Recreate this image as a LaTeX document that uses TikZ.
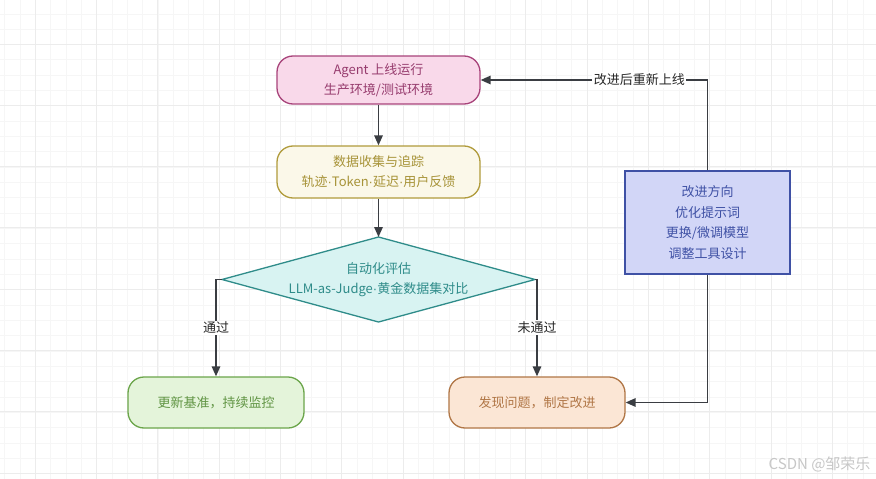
\documentclass[tikz,border=0pt]{standalone}
\usepackage{fontspec}
\setmainfont{Noto Sans CJK SC}
\newfontfamily\dotfont{Liberation Sans}
\newcommand{\sepdot}{{\dotfont\char"00B7}}
\usetikzlibrary{arrows.meta,positioning,calc}
\definecolor{gridMinor}{RGB}{246,246,246}
\definecolor{gridMajor}{RGB}{236,236,236}
\definecolor{lineGray}{RGB}{58,61,66}
\definecolor{deployFill}{RGB}{249,217,234}
\definecolor{deployLine}{RGB}{168,67,122}
\definecolor{collectFill}{RGB}{251,248,233}
\definecolor{collectLine}{RGB}{176,155,59}
\definecolor{evalFill}{RGB}{216,243,242}
\definecolor{evalLine}{RGB}{47,140,138}
\definecolor{passFill}{RGB}{228,244,218}
\definecolor{passLine}{RGB}{107,165,74}
\definecolor{failFill}{RGB}{251,230,213}
\definecolor{failLine}{RGB}{176,118,70}
\definecolor{planFill}{RGB}{210,214,247}
\definecolor{planLine}{RGB}{63,81,165}

\begin{document}
\begin{tikzpicture}[x=1pt, y=-1pt,
    stage/.style={draw, line width=1.3pt, rounded corners=16pt, align=center,
      font=\fontsize{13}{20}\selectfont},
    flow/.style={draw=lineGray, line width=1.5pt, -{Triangle[length=10pt,width=8.5pt]}},
    edgelabel/.style={fill=white, inner sep=1.5pt, text=black!85, font=\fontsize{13}{16}\selectfont}
  ]
    \useasboundingbox (0,0) rectangle (876,479);
    \fill[white] (0,0) rectangle (876,479);

    % background grid
    \foreach \k in {0,...,57} {\draw[gridMinor, line width=1pt] ({4.7+15.33*\k},0) -- ({4.7+15.33*\k},479);}
    \foreach \k in {0,...,31} {\draw[gridMinor, line width=1pt] (0,{14+15.33*\k}) -- (876,{14+15.33*\k});}
    \foreach \k in {0,...,13} {\draw[gridMajor, line width=1pt] ({35.3+61.33*\k},0) -- ({35.3+61.33*\k},479);}
    \foreach \k in {0,...,7} {\draw[gridMajor, line width=1pt] (0,{44+61.33*\k}) -- (876,{44+61.33*\k});}

    % stages
    \node[stage, fill=deployFill, draw=deployLine, text=deployLine!90!black,
      minimum width=203pt, minimum height=48pt] (deploy) at (378.5,80)
      {Agent 上线运行\\生产环境/测试环境};
    \node[stage, fill=collectFill, draw=collectLine, text=collectLine!95!black,
      minimum width=203pt, minimum height=52pt] (collect) at (378.5,172)
      {数据收集与追踪\\轨迹\sepdot Token\sepdot 延迟\sepdot 用户反馈};

    % evaluation diamond
    \draw[line width=1.3pt, draw=evalLine, fill=evalFill]
      (222,279.5) coordinate (evalW) -- (378.5,237) coordinate (evalN)
      -- (535,279.5) coordinate (evalE) -- (378.5,322) coordinate (evalS) -- cycle;
    \node[align=center, text=evalLine, font=\fontsize{13}{20}\selectfont] (eval) at (378.5,279.5)
      {自动化评估\\LLM-as-Judge\sepdot 黄金数据集对比};

    \node[stage, fill=passFill, draw=passLine, text=passLine!90!black,
      minimum width=176pt, minimum height=51pt] (update) at (216,402.5)
      {更新基准，持续监控};
    \node[stage, fill=failFill, draw=failLine, text=failLine,
      minimum width=176pt, minimum height=51pt] (improve) at (537,402.5)
      {发现问题，制定改进};
    \node[draw=planLine, line width=1.3pt, fill=planFill, text=planLine, align=center,
      font=\fontsize{13}{20.5}\selectfont,
      minimum width=165pt, minimum height=103pt] (plan) at (707.5,222.5)
      {改进方向\\优化提示词\\更换/微调模型\\调整工具设计};

    % connectors
    \draw[flow] (deploy) -- (collect);
    \draw[flow] (collect) -- (evalN);
    \draw[flow] (evalW) -| node[edgelabel, pos=0.75] {通过} (update.north);
    \draw[flow] (evalE) -| node[edgelabel, pos=0.75] {未通过} (improve.north);
    \draw[flow] (plan.south) |- (improve.east);
    \draw[flow] (plan.north) |- node[edgelabel, pos=0.65] {改进后重新上线} (deploy.east);

    % watermark
    \node[text=black!22, font=\fontsize{15}{17}\selectfont, anchor=east] (mark) at (874,464) {CSDN @邹荣乐};
\end{tikzpicture}
\end{document}
